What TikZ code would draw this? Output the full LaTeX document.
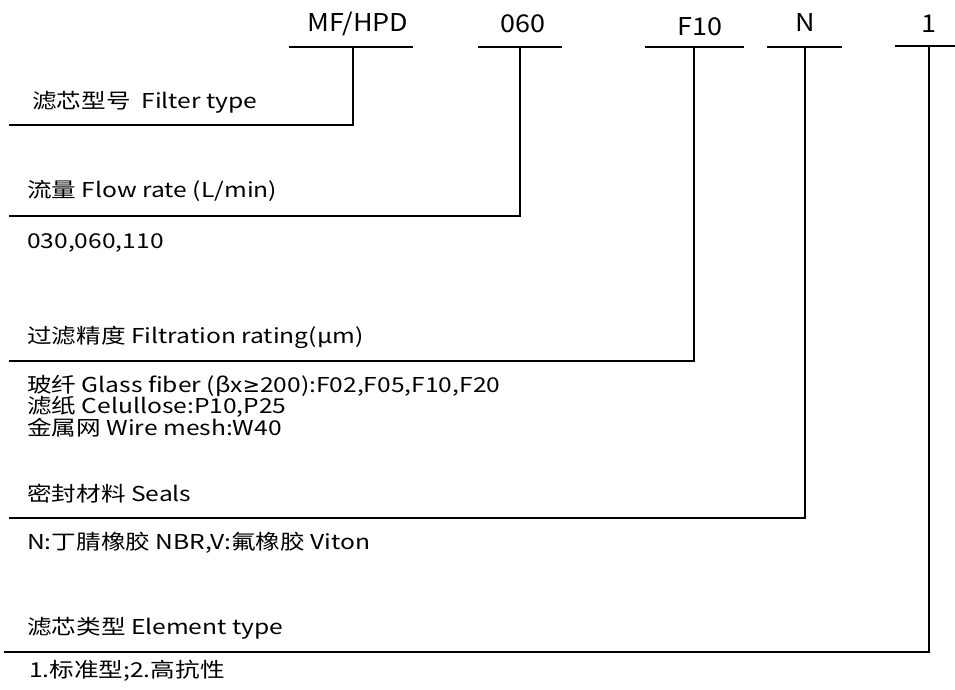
\documentclass[tikz,border=0pt]{standalone}
\usepackage{fontspec}
\setmainfont{Noto Sans CJK SC}[FakeStretch=1.2]
\newfontfamily\hdrfont{Noto Sans CJK SC}[FakeStretch=1.1]
\newfontfamily\symfont{DejaVu Sans}
\begin{document}
\begin{tikzpicture}[x=1pt,y=-1pt,
  lbl/.style={anchor=west,inner sep=0pt,font=\fontsize{20.5}{24}\selectfont},
  code/.style={anchor=center,inner sep=0pt,font=\hdrfont\fontsize{24.5}{28}\selectfont},
  ln/.style={line width=1.8pt,line cap=rect}]
\useasboundingbox (0,0) rectangle (955,690);
% header codes
\node[code] (cMF) at (358,24) {MF/HPD};
\node[code] (c060) at (523,24) {060};
\node[code] (cF10) at (700,27) {F10};
\node[code] (cN) at (805,23) {N};
\node[code] (c1) at (929,24) {1};
% bars
\coordinate (bMFl) at (290,47); \coordinate (bMFr) at (412,47); \coordinate (bMF) at (353,47);
\coordinate (b060l) at (479,47); \coordinate (b060r) at (561,47); \coordinate (b060) at (520,47);
\coordinate (bF10l) at (646,47); \coordinate (bF10r) at (743,47); \coordinate (bF10) at (694,47);
\coordinate (bNl) at (768,47); \coordinate (bNr) at (841,47); \coordinate (bN) at (805,47);
\coordinate (b1l) at (896,46); \coordinate (b1r) at (955,46); \coordinate (b1) at (929,46);
% corners
\coordinate (kMF) at (353,125); \coordinate (eMF) at (10,125);
\coordinate (k060) at (520,216); \coordinate (e060) at (10,216);
\coordinate (kF10) at (694,361); \coordinate (eF10) at (10,361);
\coordinate (kN) at (805,518); \coordinate (eN) at (10,518);
\coordinate (k1) at (929,652); \coordinate (e1) at (5,652);
\draw[ln] (bMFl) -- (bMFr);
\draw[ln] (b060l) -- (b060r);
\draw[ln] (bF10l) -- (bF10r);
\draw[ln] (bNl) -- (bNr);
\draw[ln] (b1l) -- (b1r);
\draw[ln] (bMF) -- (kMF) -- (eMF);
\draw[ln] (b060) -- (k060) -- (e060);
\draw[ln] (bF10) -- (kF10) -- (eF10);
\draw[ln] (bN) -- (kN) -- (eN);
\draw[ln] (b1) -- (k1) -- (e1);
% labels
\node[lbl] (tFilter) at (32,102) {滤芯型号\ \ Filter type};
\node[lbl] (tFlow) at (27,191) {流量 Flow rate (L/min)};
\node[lbl] (vFlow) at (27,243) {030,060,110};
\node[lbl] (tRating) at (27,337) {过滤精度 Filtration rating(μm)};
\node[lbl] (vRating1) at (27,386) {玻纤 Glass fiber (βx{\symfont ≥}200):F02,F05,F10,F20};
\node[lbl] (vRating2) at (27,407) {滤纸 Celullose:P10,P25};
\node[lbl] (vRating3) at (27,428) {金属网 Wire mesh:W40};
\node[lbl] (tSeals) at (27,494) {密封材料 Seals};
\node[lbl] (vSeals) at (27,543) {N:丁腈橡胶 NBR,V:氟橡胶 Viton};
\node[lbl] (tElem) at (27,628) {滤芯类型 Element type};
\node[lbl] (vElem) at (29,671) {1.标准型;2.高抗性};
\end{tikzpicture}
\end{document}
